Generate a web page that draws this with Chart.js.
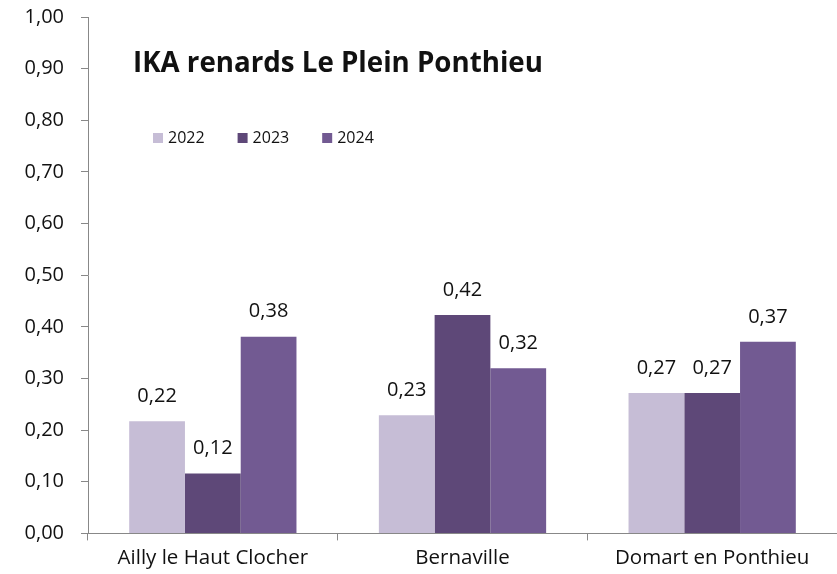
<!DOCTYPE html>
<html>
<head>
<meta charset="utf-8">
<script src="https://cdn.jsdelivr.net/npm/chart.js@4"></script>
<style>
  html, body { margin: 0; padding: 0; background: #fff; }
  #wrap { width: 837px; height: 574px; }
</style>
</head>
<body>
<div id="wrap"><canvas id="ikaChart"></canvas></div>
<script>
var communes = ['Ailly le Haut Clocher', 'Bernaville', 'Domart en Ponthieu'];
var ika2022 = [0.217, 0.229, 0.272];
var ika2023 = [0.116, 0.423, 0.272];
var ika2024 = [0.381, 0.320, 0.371];
var titleText = 'IKA renards Le Plein Ponthieu';

var FONT = "'Open Sans', sans-serif";

function frNum(v) {
    return v.toFixed(2).replace('.', ',');
}

// title + legend drawn inside the plot area, like the original
var insidePlugin = {
    id: 'inside',
    afterDraw(chart) {
        var ctx = chart.ctx, area = chart.chartArea;
        ctx.save();
        ctx.fillStyle = '#111';
        ctx.font = "bold 27.7px " + FONT;
        ctx.textBaseline = 'middle';
        ctx.textAlign = 'left';
        ctx.fillText(titleText, area.left + 45, 64);

        ctx.font = "16px " + FONT;
        var x = area.left + 65;
        chart.data.datasets.forEach(function (ds) {
            ctx.fillStyle = ds.backgroundColor;
            ctx.fillRect(x, 133, 10, 10);
            ctx.fillStyle = '#111';
            ctx.fillText(ds.label, x + 15, 138);
            x += 15 + ctx.measureText(ds.label).width + 33;
        });
        ctx.restore();
    }
};

var valuePlugin = {
    id: 'values',
    afterDatasetsDraw(chart) {
        var ctx = chart.ctx;
        ctx.save();
        ctx.font = "20px " + FONT;
        ctx.fillStyle = '#111';
        ctx.textAlign = 'center';
        ctx.textBaseline = 'middle';
        chart.data.datasets.forEach(function (ds, i) {
            chart.getDatasetMeta(i).data.forEach(function (bar, j) {
                ctx.fillText(frNum(ds.data[j]), bar.x, bar.y - 25);
            });
        });
        ctx.restore();
    }
};

new Chart(document.getElementById('ikaChart'), {
    type: 'bar',
    data: {
        labels: communes,
        datasets: [
            { label: '2022', data: ika2022, backgroundColor: '#c6bdd6' },
            { label: '2023', data: ika2023, backgroundColor: '#5e4878' },
            { label: '2024', data: ika2024, backgroundColor: '#725a92' }
        ]
    },
    options: {
        responsive: true,
        maintainAspectRatio: false,
        animation: false,
        layout: { padding: { top: 17, right: 0, left: 0, bottom: -1 } },
        datasets: { bar: { barPercentage: 1.0, categoryPercentage: 0.67 } },
        plugins: {
            legend: { display: false },
            title: { display: false },
            tooltip: { enabled: false }
        },
        scales: {
            x: {
                grid: { drawOnChartArea: false, offset: true, tickLength: 7, color: '#888' },
                border: { color: '#888' },
                ticks: { color: '#111', font: { family: FONT, size: 20.5 }, padding: 5, maxRotation: 0 }
            },
            y: {
                min: 0,
                max: 1,
                afterFit: function (scale) {
                    scale.width = 88;
                    scale.paddingTop = 12;
                    scale.paddingBottom = 12;
                },
                grid: { drawOnChartArea: false, tickLength: 7, color: '#888' },
                border: { color: '#888' },
                ticks: {
                    stepSize: 0.1,
                    color: '#111',
                    font: { family: FONT, size: 20 },
                    padding: 17,
                    callback: function (v) { return frNum(v); }
                }
            }
        }
    },
    plugins: [insidePlugin, valuePlugin]
});
</script>
</body>
</html>
